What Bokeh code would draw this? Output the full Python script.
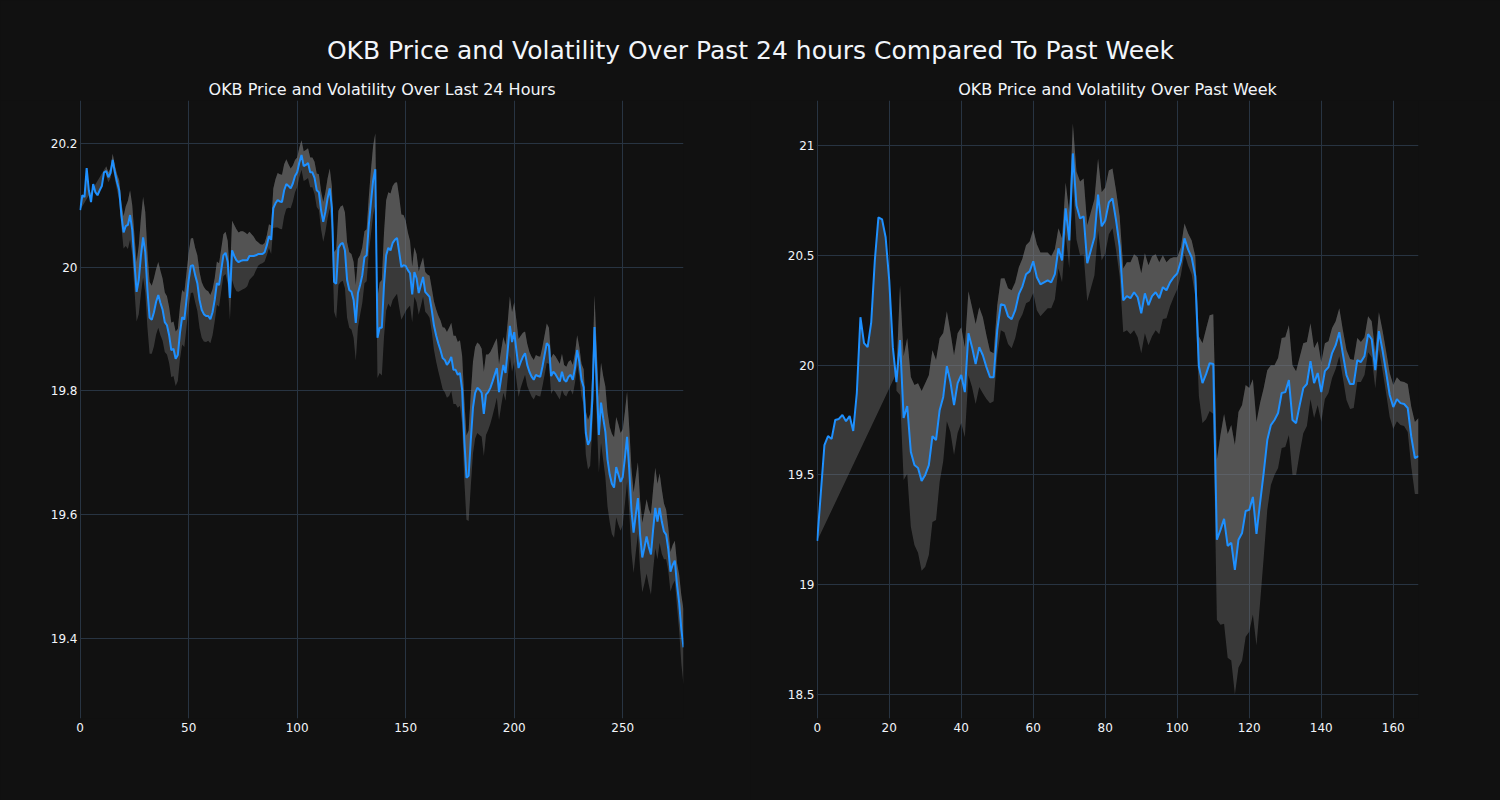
import numpy as np
from bokeh.plotting import figure
from bokeh.layouts import column, row
from bokeh.models import Range1d, FixedTicker, CustomJSTickFormatter, Label
from bokeh.embed import file_html
from bokeh.resources import INLINE

BG = "#111111"
GRID = "#283442"
TXT = "#f2f5fa"
LINE = "#1e90ff"
BAND = "#808080"
FONT = "DejaVu Sans"
NaN = float("nan")

main_title = "OKB Price and Volatility Over Past 24 hours Compared To Past Week"
title_24h = "OKB Price and Volatility Over Last 24 Hours"
title_week = "OKB Price and Volatility Over Past Week"

# ---- last 24 hours (5-minute steps) ----
price_24h = [
    20.092, 20.116, 20.113, 20.160, 20.124, 20.105, 20.134, 20.121, 20.116, 20.124,
    20.131, 20.153, 20.155, 20.145, 20.152, 20.173, 20.153, 20.137, 20.124, 20.084,
    20.056, 20.066, 20.068, 20.084, 20.060, 20.008, 19.960, 19.979, 20.018, 20.048,
    20.024, 19.963, 19.918, 19.915, 19.927, 19.944, 19.955, 19.942, 19.931, 19.911,
    19.906, 19.890, 19.866, 19.868, 19.852, 19.858, 19.894, 19.919, 19.915, 19.947,
    19.979, 20.002, 20.003, 19.987, 19.974, 19.947, 19.931, 19.924, 19.921, 19.921,
    19.916, 19.927, 19.947, 19.974, 19.971, 19.995, 20.019, 20.023, 20.008, 19.950,
    20.027, 20.018, 20.011, 20.008, 20.010, 20.011, 20.011, 20.011, 20.018, 20.018,
    20.018, 20.019, 20.021, 20.021, 20.021, 20.024, 20.035, 20.050, 20.044, 20.095,
    20.103, 20.108, 20.106, 20.105, 20.124, 20.134, 20.131, 20.127, 20.135, 20.147,
    20.153, 20.169, 20.181, 20.163, 20.165, 20.168, 20.153, 20.153, 20.144, 20.124,
    20.121, 20.092, 20.073, 20.089, 20.111, 20.127, 20.095, 19.976, 19.973, 20.031,
    20.037, 20.039, 20.027, 19.979, 19.963, 19.960, 19.947, 19.910, 19.958, 19.971,
    19.987, 20.016, 20.019, 20.068, 20.105, 20.140, 20.158, 19.886, 19.902, 19.902,
    19.971, 20.019, 20.031, 20.027, 20.039, 20.044, 20.047, 20.024, 20.000, 20.003,
    20.002, 19.995, 19.990, 19.956, 19.992, 19.982, 19.958, 19.971, 19.984, 19.960,
    19.956, 19.952, 19.931, 19.906, 19.890, 19.877, 19.866, 19.853, 19.850, 19.842,
    19.847, 19.855, 19.834, 19.834, 19.826, 19.829, 19.802, 19.721, 19.660, 19.663,
    19.721, 19.773, 19.797, 19.805, 19.802, 19.797, 19.763, 19.794, 19.798, 19.805,
    19.815, 19.826, 19.837, 19.798, 19.821, 19.842, 19.829, 19.866, 19.905, 19.879,
    19.895, 19.866, 19.837, 19.847, 19.855, 19.861, 19.842, 19.831, 19.823, 19.818,
    19.826, 19.824, 19.823, 19.839, 19.858, 19.877, 19.873, 19.824, 19.831, 19.827,
    19.821, 19.815, 19.831, 19.818, 19.815, 19.823, 19.826, 19.818, 19.837, 19.866,
    19.847, 19.818, 19.806, 19.732, 19.713, 19.721, 19.786, 19.903, 19.813, 19.729,
    19.781, 19.756, 19.734, 19.689, 19.665, 19.650, 19.644, 19.677, 19.665, 19.653,
    19.661, 19.692, 19.726, 19.673, 19.608, 19.571, 19.600, 19.627, 19.568, 19.531,
    19.547, 19.565, 19.548, 19.536, 19.576, 19.611, 19.589, 19.611, 19.589, 19.573,
    19.568, 19.544, 19.508, 19.519, 19.526, 19.487, 19.458, 19.415, 19.386,
]
vol_24h = [NaN] * 12 + [
    0.008, 0.008, 0.008, 0.010, 0.011, 0.013, 0.016, 0.019,
    0.026, 0.032, 0.039, 0.040, 0.040, 0.044, 0.048, 0.055, 0.061, 0.065,
    0.065, 0.061, 0.058, 0.055, 0.055, 0.053, 0.053, 0.052, 0.050, 0.048,
    0.047, 0.045, 0.044, 0.044, 0.044, 0.042, 0.042, 0.044, 0.044, 0.044,
    0.044, 0.044, 0.044, 0.044, 0.045, 0.045, 0.045, 0.044, 0.042, 0.040,
    0.039, 0.037, 0.035, 0.035, 0.035, 0.034, 0.034, 0.034, 0.034, 0.035,
    0.048, 0.050, 0.050, 0.048, 0.048, 0.047, 0.045, 0.042, 0.039, 0.035,
    0.031, 0.024, 0.019, 0.016, 0.015, 0.015, 0.016, 0.019, 0.023, 0.032,
    0.039, 0.044, 0.044, 0.044, 0.042, 0.040, 0.035, 0.032, 0.029, 0.026,
    0.024, 0.024, 0.024, 0.024, 0.024, 0.024, 0.024, 0.024, 0.026, 0.027,
    0.029, 0.031, 0.032, 0.032, 0.032, 0.032, 0.035, 0.048, 0.056, 0.060,
    0.061, 0.061, 0.061, 0.061, 0.061, 0.061, 0.061, 0.061, 0.055, 0.048,
    0.045, 0.042, 0.042, 0.045, 0.052, 0.056, 0.058, 0.065, 0.073, 0.077,
    0.084, 0.089, 0.090, 0.092, 0.092, 0.092, 0.090, 0.089, 0.085, 0.081,
    0.073, 0.061, 0.052, 0.045, 0.040, 0.039, 0.035, 0.034, 0.032, 0.032,
    0.032, 0.034, 0.035, 0.039, 0.042, 0.045, 0.048, 0.050, 0.052, 0.053,
    0.055, 0.055, 0.055, 0.055, 0.053, 0.053, 0.055, 0.065, 0.068, 0.073,
    0.074, 0.074, 0.074, 0.073, 0.073, 0.071, 0.068, 0.065, 0.061, 0.058,
    0.055, 0.052, 0.048, 0.045, 0.045, 0.045, 0.045, 0.045, 0.048, 0.048,
    0.048, 0.048, 0.047, 0.042, 0.039, 0.035, 0.034, 0.032, 0.032, 0.032,
    0.032, 0.032, 0.032, 0.032, 0.032, 0.032, 0.029, 0.029, 0.029, 0.029,
    0.029, 0.029, 0.029, 0.024, 0.024, 0.024, 0.024, 0.024, 0.024, 0.024,
    0.024, 0.026, 0.029, 0.035, 0.040, 0.042, 0.045, 0.052, 0.056, 0.061,
    0.065, 0.068, 0.073, 0.076, 0.077, 0.081, 0.081, 0.081, 0.081, 0.079,
    0.077, 0.074, 0.073, 0.068, 0.068, 0.065, 0.061, 0.058, 0.056, 0.056,
    0.058, 0.060, 0.061, 0.065, 0.065, 0.065, 0.061, 0.056, 0.052, 0.045,
    0.040, 0.035, 0.032, 0.032, 0.032, 0.035, 0.045, 0.055, 0.061,
]

# ---- past week (hourly steps) ----
price_week = [
    19.200, 19.418, 19.636, 19.677, 19.664, 19.750, 19.755, 19.773, 19.745, 19.768,
    19.700, 19.873, 20.218, 20.100, 20.082, 20.195, 20.477, 20.673, 20.664, 20.582,
    20.386, 20.082, 19.923, 20.114, 19.759, 19.814, 19.605, 19.545, 19.532, 19.473,
    19.500, 19.545, 19.677, 19.659, 19.795, 19.855, 19.995, 19.923, 19.818, 19.918,
    19.955, 19.877, 20.145, 20.082, 20.005, 20.082, 20.045, 19.991, 19.945, 19.945,
    20.159, 20.277, 20.273, 20.223, 20.209, 20.250, 20.323, 20.359, 20.414, 20.427,
    20.473, 20.400, 20.368, 20.377, 20.386, 20.377, 20.414, 20.532, 20.477, 20.714,
    20.568, 20.964, 20.727, 20.668, 20.677, 20.464, 20.523, 20.582, 20.777, 20.632,
    20.659, 20.741, 20.759, 20.659, 20.541, 20.295, 20.314, 20.305, 20.332, 20.309,
    20.236, 20.327, 20.273, 20.314, 20.332, 20.305, 20.355, 20.341, 20.377, 20.400,
    20.418, 20.473, 20.577, 20.527, 20.491, 20.405, 19.995, 19.918, 19.959, 20.009,
    20.005, 19.205, 19.250, 19.300, 19.177, 19.191, 19.068, 19.205, 19.236, 19.336,
    19.341, 19.400, 19.232, 19.373, 19.509, 19.659, 19.727, 19.750, 19.782, 19.873,
    19.877, 19.932, 19.750, 19.736, 19.818, 19.895, 19.914, 20.018, 19.918, 19.964,
    19.877, 19.973, 19.991, 20.055, 20.091, 20.150, 20.050, 19.955, 19.914, 19.914,
    20.023, 20.014, 20.041, 20.141, 20.118, 19.977, 20.155, 20.068, 19.968, 19.864,
    19.809, 19.845, 19.827, 19.823, 19.805, 19.673, 19.577, 19.586,
]
vol_week = [NaN] * 22 + [
    0.040,
    0.250, 0.282, 0.309, 0.341, 0.364, 0.386, 0.409,
    0.418, 0.409, 0.391, 0.364, 0.327, 0.291, 0.250, 0.227, 0.227, 0.227,
    0.218, 0.205, 0.191, 0.182, 0.182, 0.182, 0.173, 0.145, 0.118, 0.109,
    0.114, 0.118, 0.123, 0.127, 0.132, 0.127, 0.123, 0.127, 0.132, 0.136,
    0.145, 0.150, 0.145, 0.136, 0.127, 0.118, 0.114, 0.091, 0.100, 0.118,
    0.127, 0.136, 0.155, 0.168, 0.173, 0.173, 0.173, 0.173, 0.164, 0.155,
    0.150, 0.145, 0.136, 0.136, 0.136, 0.145, 0.155, 0.164, 0.173, 0.182,
    0.182, 0.182, 0.182, 0.182, 0.173, 0.164, 0.145, 0.127, 0.109, 0.091,
    0.073, 0.064, 0.068, 0.073, 0.077, 0.091, 0.136, 0.182, 0.205, 0.218,
    0.227, 0.364, 0.432, 0.477, 0.509, 0.536, 0.568, 0.582, 0.582, 0.573,
    0.555, 0.536, 0.509, 0.455, 0.386, 0.318, 0.273, 0.250, 0.250, 0.250,
    0.250, 0.250, 0.250, 0.236, 0.218, 0.205, 0.191, 0.173, 0.159, 0.145,
    0.136, 0.127, 0.118, 0.114, 0.109, 0.109, 0.109, 0.114, 0.114, 0.109,
    0.100, 0.091, 0.086, 0.082, 0.082, 0.082, 0.086, 0.091, 0.095, 0.100,
    0.100, 0.100, 0.100, 0.100, 0.109, 0.136, 0.164, 0.173,
]

x_ticks_24h = [0, 50, 100, 150, 200, 250]
y_ticks_24h = [19.4, 19.6, 19.8, 20.0, 20.2]
x_ticks_week = [0, 20, 40, 60, 80, 100, 120, 140, 160]
y_ticks_week = [18.5, 19.0, 19.5, 20.0, 20.5, 21.0]

x_range_24h = (-0.3, 278)
x_range_week = (-0.2, 167)
y_range_24h = (19.271, 20.269)
y_range_week = (18.391, 21.205)


def panel(price, vol, xr, yr, xt, yt, left, right):
    p_arr = np.array(price, dtype=float)
    v_arr = np.array(vol, dtype=float)
    x = np.arange(len(p_arr), dtype=float)
    up = p_arr + v_arr
    lo = p_arr - v_arr
    k = int(np.argmax(~np.isnan(v_arr)))

    fig = figure(width=750, height=700, title=None,
                 x_range=Range1d(*xr), y_range=Range1d(*yr),
                 output_backend="svg", toolbar_location=None,
                 min_border_left=left, min_border_right=right,
                 min_border_top=0, min_border_bottom=82,
                 background_fill_color=BG, border_fill_color=BG,
                 outline_line_color=None)

    # upper band filled towards the price trace (closes back to the first price point)
    fig.patch(np.concatenate([x[k:], x[::-1]]), np.concatenate([up[k:], p_arr[::-1]]),
              fill_color=BAND, fill_alpha=0.37, line_color=None)
    # lower band filled towards the upper band
    fig.varea(x=x[k:], y1=lo[k:], y2=up[k:], fill_color=BAND, fill_alpha=0.37)
    fig.line(x, p_arr, line_color=LINE, line_width=2)

    fig.xaxis.ticker = FixedTicker(ticks=xt)
    fig.yaxis.ticker = FixedTicker(ticks=yt)
    fig.yaxis.formatter = CustomJSTickFormatter(
        code="return String(parseFloat(tick.toFixed(3)));")
    for ax in fig.axis:
        ax.axis_line_color = None
        ax.major_tick_line_color = None
        ax.minor_tick_line_color = None
        ax.major_tick_out = 0
        ax.major_tick_in = 0
        ax.minor_tick_out = 0
        ax.minor_tick_in = 0
        ax.major_label_text_color = TXT
        ax.major_label_text_font_size = "12px"
        ax.major_label_text_font = FONT
    fig.yaxis.major_label_standoff = 2
    fig.xaxis.major_label_standoff = 4
    fig.grid.grid_line_color = GRID
    fig.grid.grid_line_width = 1
    return fig


p1 = panel(price_24h, vol_24h, x_range_24h, y_range_24h, x_ticks_24h, y_ticks_24h, 79, 67)
p2 = panel(price_week, vol_week, x_range_week, y_range_week, x_ticks_week, y_ticks_week, 66, 82)

head = figure(width=1500, height=100, x_range=Range1d(0, 1500), y_range=Range1d(0, 100),
              output_backend="svg", toolbar_location=None, title=None,
              x_axis_location=None, y_axis_location=None,
              min_border=0, background_fill_color=BG, border_fill_color=BG,
              outline_line_color=None)
head.grid.visible = False
head.add_layout(Label(x=750, y=50, text=main_title, text_align="center",
                      text_baseline="middle", text_font_size="25px",
                      text_color=TXT, text_font=FONT))
head.add_layout(Label(x=381.5, y=11, text=title_24h, text_align="center",
                      text_baseline="middle", text_font_size="16px",
                      text_color=TXT, text_font=FONT))
head.add_layout(Label(x=1117, y=11, text=title_week, text_align="center",
                      text_baseline="middle", text_font_size="16px",
                      text_color=TXT, text_font=FONT))

layout = column(head, row(p1, p2, spacing=0), spacing=0)

page_template = """
{% block preamble %}
<style>
  html, body { background-color: #111111; margin: 0; padding: 0; }
</style>
{% endblock %}
"""

with open("out.html", "w") as f:
    f.write(file_html(layout, INLINE, template=page_template))
